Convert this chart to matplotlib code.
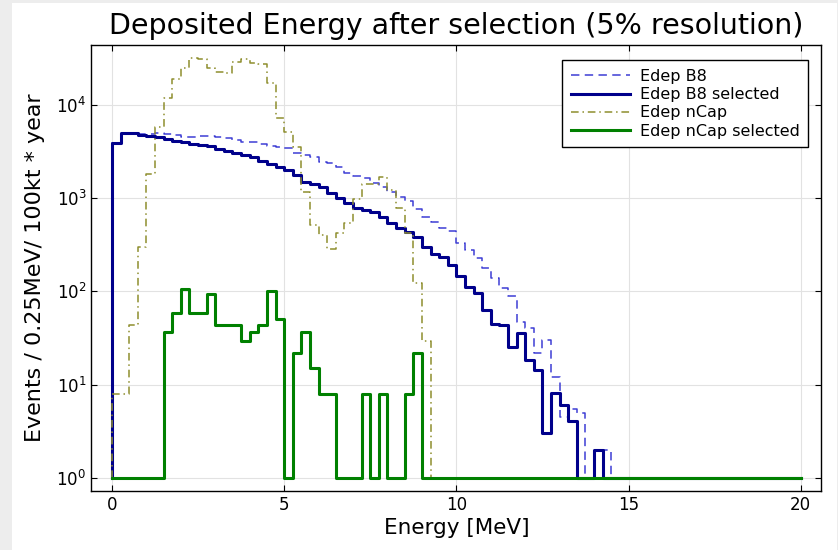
import numpy as np
import matplotlib
matplotlib.use('Agg')
import matplotlib.pyplot as plt
from matplotlib.patches import Rectangle
from matplotlib.ticker import NullLocator

# 0.25 MeV bins from 0 to 20 MeV
bin_edges = np.arange(0, 20.25, 0.25)

# Edep B8 (before selection)
b8_all = [3950, 5000, 4980, 4900, 4870, 4950, 4860, 4740, 4550, 4550,
          4670, 4600, 4480, 4380, 4200, 4030, 4030, 3800, 3610, 3560,
          3420, 3020, 2900, 2780, 2460, 2360, 2170, 1840, 1725, 1630,
          1440, 1330, 1170, 1035, 940, 758, 632, 558, 474, 444,
          327, 278, 226, 177, 138, 108, 90, 47, 40, 22,
          30, 12, 4.5, 5.5, 5, 1, 1, 2] + [1] * 22

# Edep B8 selected
b8_sel = [3950, 5000, 4950, 4750, 4650, 4500, 4350, 4150, 4000, 3800,
          3680, 3600, 3380, 3170, 3020, 2900, 2740, 2480, 2320, 2170,
          2000, 1770, 1500, 1420, 1330, 1130, 995, 880, 777, 745,
          715, 631, 537, 474, 437, 380, 302, 251, 232, 192,
          146, 112, 95, 63, 45, 43, 25, 36, 18.4, 14.4,
          3, 8.2, 6.1, 4.1, 1, 1, 2] + [1] * 23

# Edep nCap (before selection)
ncap_all = [8, 8, 43, 300, 1800, 5800, 12000, 18900, 24600, 32000,
            31000, 24600, 22600, 22000, 29000, 30800, 28000, 27800, 17400, 7300,
            5100, 3500, 1170, 515, 400, 285, 420, 540, 970, 1420,
            1420, 1670, 1230, 780, 420, 122, 29] + [1] * 43

# Edep nCap selected
ncap_sel = [1, 1, 1, 1, 1, 1, 37, 58, 107, 58,
            58, 94, 43, 43, 43, 29.4, 36.7, 43, 100, 51,
            1, 22, 36.7, 15, 8, 8, 1, 1, 1, 8,
            1, 8, 1, 1, 8, 22] + [1] * 44


def step_line(ax, values, base=1, **kw):
    # stephist-like outline that starts from a baseline at the first edge
    xs = np.r_[bin_edges[0], bin_edges]
    ys = np.r_[base, values, values[-1]]
    ax.plot(xs, ys, drawstyle='steps-post', **kw)


fig = plt.figure(figsize=(8.38, 5.5), dpi=100)
fig.patch.set_facecolor('#ededed')
fig.add_artist(Rectangle((12 / 838, 0), 825 / 838, 1 - 3 / 550, transform=fig.transFigure,
                         facecolor='white', edgecolor='none', zorder=-10))

ax = fig.add_axes([91.3 / 838, 1 - 490.7 / 550, 730.1 / 838, 445.7 / 550])

step_line(ax, b8_all, color='#3d3dd4', lw=1.1, dashes=(5.5, 3.5), label='Edep B8')
step_line(ax, b8_sel, color='#00008b', lw=2.2, label='Edep B8 selected')
step_line(ax, ncap_all, color='#8e8e2e', lw=1.1, dashes=(5, 2.5, 1, 2.5), label='Edep nCap')
step_line(ax, ncap_sel, color='#008000', lw=2.2, label='Edep nCap selected')

ax.set_yscale('log')
ax.set_xlim(-0.6, 20.6)
ax.set_ylim(10 ** -0.139, 10 ** 4.643)
ax.set_xticks([0, 5, 10, 15, 20])
ax.yaxis.set_minor_locator(NullLocator())

ax.grid(True, color='#e2e2e2', lw=0.8)
ax.set_axisbelow(True)
ax.tick_params(direction='in', top=True, right=True, length=4, width=0.8,
               labelsize=12, colors='black')
for s in ax.spines.values():
    s.set_linewidth(1.0)

ax.set_title('Deposited Energy after selection (5% resolution)', fontsize=20.5, pad=8)
ax.set_xlabel('Energy [MeV]', fontsize=15.5)
ax.set_ylabel('Events / 0.25MeV/ 100kt * year', fontsize=16)
ax.xaxis.set_label_coords(0.5, -0.062)
ax.yaxis.set_label_coords(-0.064, 0.5)

leg = ax.legend(loc='upper right', bbox_to_anchor=(0.982, 0.966), borderaxespad=0,
                fontsize=11.5, handlelength=3.7, labelspacing=0.2, fancybox=False,
                framealpha=1, edgecolor='black', borderpad=0.55, handletextpad=0.6)
leg.get_frame().set_linewidth(1.0)

fig.savefig('out.png', dpi=100, facecolor=fig.get_facecolor())
